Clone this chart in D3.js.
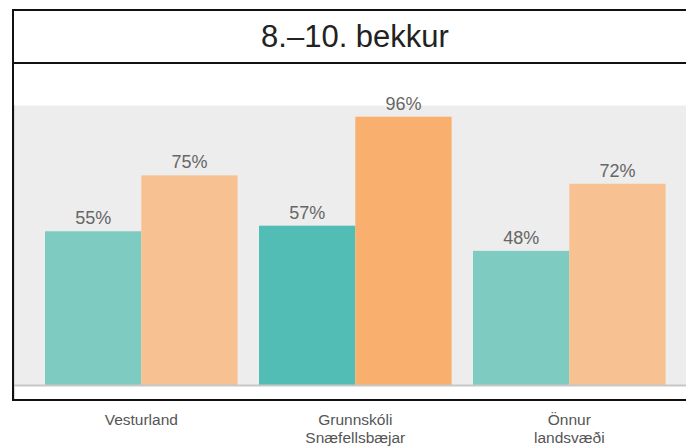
<!DOCTYPE html>
<html><head><meta charset="utf-8">
<script src="https://cdn.jsdelivr.net/npm/d3@7"></script>
<style>body{margin:0;background:#fff}svg{display:block}</style>
</head><body>
<script>
const title = "8.\u201310. bekkur";
const categories = ["Vesturland", "Grunnskóli Snæfellsbæjar", "Önnur landsvæði"];
const categoryLines = [["Vesturland"], ["Grunnskóli", "Snæfellsbæjar"], ["Önnur", "landsvæði"]];
const seriesA = [55, 57, 48];
const seriesB = [75, 96, 72];
const highlight = "Grunnskóli Snæfellsbæjar";

const W = 686, H = 448;
const svg = d3.select("body").append("svg").attr("width", W).attr("height", H)
  .style("font-family", "'Liberation Sans', Arial, sans-serif");

const x = d3.scaleBand().domain(categories).range([34.3, 676.3]).paddingInner(0.1).paddingOuter(0.05);
const x1 = d3.scaleBand().domain(["A", "B"]).range([0, x.bandwidth()]);
const y = d3.scaleLinear().domain([0, 100]).range([385, 105.5]);

// plot background
svg.append("rect").attr("x", 14).attr("y", y(100)).attr("width", W - 14).attr("height", y(0) - y(100)).attr("fill", "#ededed");
svg.append("line").attr("x1", 14.5).attr("x2", 14.5).attr("y1", y(100)).attr("y2", 399).attr("stroke", "#d8d8d8").attr("stroke-width", 1);

const colors = {
  A: d => d === highlight ? "#52bdb4" : "#7ecbc1",
  B: d => d === highlight ? "#f9af6e" : "#f7c192"
};

const g = svg.append("g");
const data = [];
categories.forEach((c, i) => {
  data.push({c, k: "A", v: seriesA[i]});
  data.push({c, k: "B", v: seriesB[i]});
});
g.selectAll("rect.bar").data(data).join("rect").attr("class", "bar")
  .attr("x", d => x(d.c) + x1(d.k))
  .attr("width", x1.bandwidth())
  .attr("y", d => y(d.v))
  .attr("height", d => y(0) - y(d.v))
  .attr("fill", d => colors[d.k](d.c));

g.selectAll("text.val").data(data).join("text").attr("class", "val")
  .attr("x", d => x(d.c) + x1(d.k) + x1.bandwidth() / 2)
  .attr("y", d => y(d.v) - 7)
  .attr("text-anchor", "middle")
  .attr("font-size", 18).attr("fill", "#666")
  .text(d => d.v + "%");

// baseline axis
svg.append("line").attr("x1", 14).attr("x2", W).attr("y1", y(0) + 0.5).attr("y2", y(0) + 0.5)
  .attr("stroke", "#c8c8c8").attr("stroke-width", 2);

// frame
svg.append("rect").attr("x", 13).attr("y", 10).attr("width", 684).attr("height", 390)
  .attr("fill", "none").attr("stroke", "#111").attr("stroke-width", 2);
svg.append("line").attr("x1", 13).attr("x2", W).attr("y1", 63).attr("y2", 63)
  .attr("stroke", "#111").attr("stroke-width", 2);

svg.append("text").attr("x", 355).attr("y", 46.5).attr("text-anchor", "middle")
  .attr("font-size", 31).attr("fill", "#222").text(title);

// category labels
const labels = svg.selectAll("text.cat").data(categories).join("text").attr("class", "cat")
  .attr("text-anchor", "middle").attr("font-size", 15.5).attr("fill", "#555");
labels.each(function(c, i) {
  d3.select(this).selectAll("tspan").data(categoryLines[i]).join("tspan")
    .attr("x", x(c) + x.bandwidth() / 2)
    .attr("y", (d, j) => 425 + j * 18)
    .text(d => d);
});
</script>
</body></html>
